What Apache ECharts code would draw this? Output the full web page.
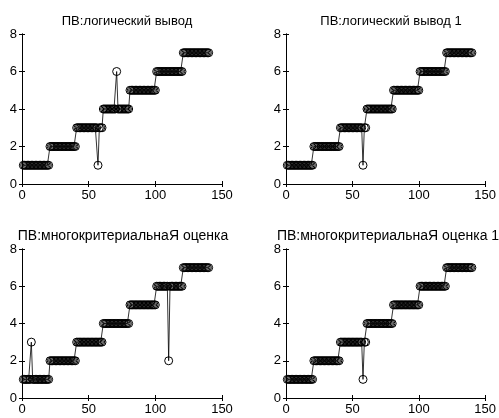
<!DOCTYPE html>
<html>
<head>
<meta charset="utf-8">
<script src="https://cdn.jsdelivr.net/npm/echarts@6/dist/echarts.min.js"></script>
<style>
  html, body { margin: 0; padding: 0; background: #fff; }
  #chart { width: 499px; height: 418px; }
</style>
</head>
<body>
<div id="chart"></div>
<script>
// Panel titles
const panelTitles = [
  'ПВ:логический вывод',
  'ПВ:логический вывод 1',
  'ПВ:многокритериальнаЯ оценка',
  'ПВ:многокритериальнаЯ оценка 1'
];

// Axis ticks
const xTicks = [0, 50, 100, 150];
const yTicks = [0, 2, 4, 6, 8];

// Class assigned to each of samples 1..140, one array per panel
const logicalOutput = [
  1,1,1,1,1,1,1,1,1,1,1,1,1,1,1,1,1,1,1,1,
  2,2,2,2,2,2,2,2,2,2,2,2,2,2,2,2,2,2,2,2,
  3,3,3,3,3,3,3,3,3,3,3,3,3,3,3,3,1,3,3,3,
  4,4,4,4,4,4,4,4,4,4,6,4,4,4,4,4,4,4,4,4,
  5,5,5,5,5,5,5,5,5,5,5,5,5,5,5,5,5,5,5,5,
  6,6,6,6,6,6,6,6,6,6,6,6,6,6,6,6,6,6,6,6,
  7,7,7,7,7,7,7,7,7,7,7,7,7,7,7,7,7,7,7,7
];
const logicalOutput1 = [
  1,1,1,1,1,1,1,1,1,1,1,1,1,1,1,1,1,1,1,1,
  2,2,2,2,2,2,2,2,2,2,2,2,2,2,2,2,2,2,2,2,
  3,3,3,3,3,3,3,3,3,3,3,3,3,3,3,3,3,1,3,3,
  4,4,4,4,4,4,4,4,4,4,4,4,4,4,4,4,4,4,4,4,
  5,5,5,5,5,5,5,5,5,5,5,5,5,5,5,5,5,5,5,5,
  6,6,6,6,6,6,6,6,6,6,6,6,6,6,6,6,6,6,6,6,
  7,7,7,7,7,7,7,7,7,7,7,7,7,7,7,7,7,7,7,7
];
const multiCriteria = [
  1,1,1,1,1,1,3,1,1,1,1,1,1,1,1,1,1,1,1,1,
  2,2,2,2,2,2,2,2,2,2,2,2,2,2,2,2,2,2,2,2,
  3,3,3,3,3,3,3,3,3,3,3,3,3,3,3,3,3,3,3,3,
  4,4,4,4,4,4,4,4,4,4,4,4,4,4,4,4,4,4,4,4,
  5,5,5,5,5,5,5,5,5,5,5,5,5,5,5,5,5,5,5,5,
  6,6,6,6,6,6,6,6,6,2,6,6,6,6,6,6,6,6,6,6,
  7,7,7,7,7,7,7,7,7,7,7,7,7,7,7,7,7,7,7,7
];
const multiCriteria1 = [
  1,1,1,1,1,1,1,1,1,1,1,1,1,1,1,1,1,1,1,1,
  2,2,2,2,2,2,2,2,2,2,2,2,2,2,2,2,2,2,2,2,
  3,3,3,3,3,3,3,3,3,3,3,3,3,3,3,3,3,1,3,3,
  4,4,4,4,4,4,4,4,4,4,4,4,4,4,4,4,4,4,4,4,
  5,5,5,5,5,5,5,5,5,5,5,5,5,5,5,5,5,5,5,5,
  6,6,6,6,6,6,6,6,6,6,6,6,6,6,6,6,6,6,6,6,
  7,7,7,7,7,7,7,7,7,7,7,7,7,7,7,7,7,7,7,7
];
const panelSeries = [logicalOutput, logicalOutput1, multiCriteria, multiCriteria1];

const FONT = 'Liberation Sans, Arial, sans-serif';
const grids = [
  { left: 22,  top: 34,  width: 200, height: 150 },
  { left: 286, top: 34,  width: 201, height: 150 },
  { left: 22,  top: 249, width: 200, height: 149 },
  { left: 286, top: 249, width: 201, height: 149 }
];
// Title anchors (centre x), sizes and offsets per panel
const titleCenters = [122, 386, 118, 383];
const titleSizes = [13, 13, 14, 14];
const titleOffsets = [24, 24, 25, 25];

const xAxes = [], yAxes = [], series = [], titles = [];
grids.forEach((g, i) => {
  const tick = { show: true, inside: true, length: 3, lineStyle: { color: '#000' } };
  const line = { show: true, lineStyle: { color: '#000', width: 1 } };
  xAxes.push({
    type: 'value', gridIndex: i, min: xTicks[0], max: xTicks[xTicks.length - 1], interval: 50,
    position: 'bottom', axisLine: line, axisTick: tick,
    axisLabel: { show: true, color: '#000', fontFamily: FONT, fontSize: 13, margin: 5 },
    splitLine: { show: false }
  }, {
    type: 'value', gridIndex: i, min: xTicks[0], max: xTicks[xTicks.length - 1], interval: 50,
    position: 'top', axisLine: line, axisTick: tick,
    axisLabel: { show: false }, splitLine: { show: false }
  });
  yAxes.push({
    type: 'value', gridIndex: i, min: yTicks[0], max: yTicks[yTicks.length - 1], interval: 2,
    position: 'left', axisLine: line, axisTick: tick,
    axisLabel: { show: true, color: '#000', fontFamily: FONT, fontSize: 13, margin: 5 },
    splitLine: { show: false }
  }, {
    type: 'value', gridIndex: i, min: yTicks[0], max: yTicks[yTicks.length - 1], interval: 2,
    position: 'right', axisLine: line, axisTick: tick,
    axisLabel: { show: false }, splitLine: { show: false }
  });

  series.push({
    type: 'line',
    xAxisIndex: 2 * i,
    yAxisIndex: 2 * i,
    data: panelSeries[i].map((v, k) => [k + 1, v]),
    symbol: 'circle',
    symbolSize: 8,
    showSymbol: true,
    showAllSymbol: true,
    animation: false,
    itemStyle: { color: 'rgba(0,0,0,0)', borderColor: '#000', borderWidth: 1 },
    lineStyle: { color: '#000', width: 0.8 },
    emphasis: { disabled: true }
  });

  titles.push({
    text: panelTitles[i],
    left: titleCenters[i],
    top: g.top - titleOffsets[i],
    textAlign: 'center',
    textStyle: { fontFamily: FONT, fontSize: titleSizes[i], fontWeight: 'normal', color: '#000' }
  });
});

const chart = echarts.init(document.getElementById('chart'));
chart.setOption({
  backgroundColor: '#fff',
  animation: false,
  title: titles,
  grid: grids,
  xAxis: xAxes,
  yAxis: yAxes,
  series: series
});
</script>
</body>
</html>
